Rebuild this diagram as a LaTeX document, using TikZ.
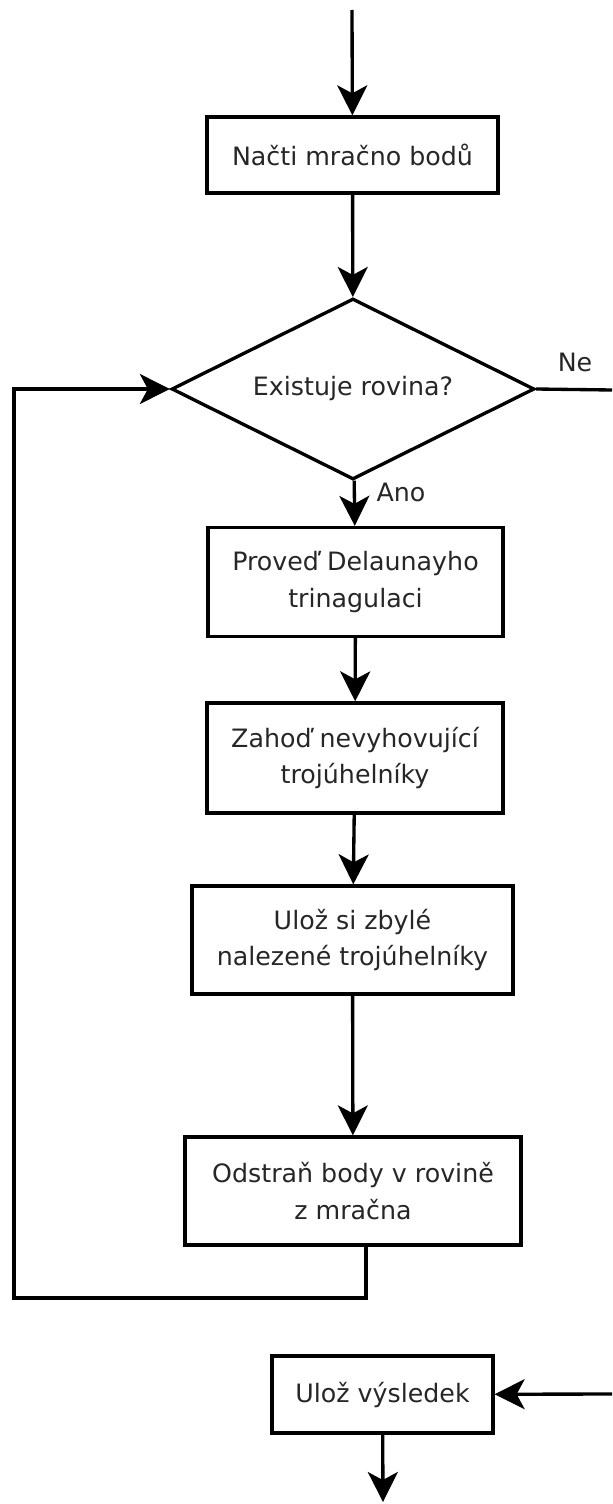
\documentclass[tikz,border=0pt]{standalone}
\usepackage{fontspec}
\setmainfont{DejaVu Sans}
\usepackage{tikz}
\usetikzlibrary{arrows.meta,shapes.geometric}

\begin{document}
\begin{tikzpicture}[x=0.02cm,y=-0.02cm,line width=1.9pt,
  >={Stealth[length=0.6cm,width=0.6cm,inset=0.16cm]},
  txt/.style={font=\fontsize{14.4}{21}\selectfont,text=black!85},
  box/.style={txt,draw,rectangle,align=center,inner sep=0pt},
  decision/.style={txt,draw,diamond,aspect=2,inner sep=0pt,
    minimum width=7.26cm,minimum height=3.62cm}]
  \useasboundingbox (0,0) rectangle (612,1504);
  % steps of the loop
  \coordinate (start) at (352,10);
  \node[box,minimum width=5.82cm,minimum height=1.52cm] (load) at (352.5,155) {Načti mračno bodů};
  \node[decision] (plane) at (353,389) {Existuje rovina?};
  \node[box,minimum width=5.9cm,minimum height=2.18cm] (delaunay) at (355.5,582) {Proveď Delaunayho\\trinagulaci};
  \node[box,minimum width=5.92cm,minimum height=2.2cm] (discard) at (355,758) {Zahoď nevyhovující\\trojúhelníky};
  \node[box,minimum width=6.42cm,minimum height=2.16cm] (keep) at (352.5,940) {Ulož si zbylé\\nalezené trojúhelníky};
  \node[box,minimum width=6.72cm,minimum height=2.16cm] (remove) at (353,1191) {Odstraň body v rovině\\z mračna};
  \node[box,minimum width=4.42cm,minimum height=1.54cm] (save) at (382.5,1394.5) {Ulož výsledek};
  \node[txt] (yes) at (401,492) {Ano};
  \node[txt] (no) at (575,362) {Ne};
  \coordinate (noexit) at (612,390);
  \coordinate (noenter) at (612,1394);
  \coordinate (finish) at (383,1502);
  \coordinate (loopR) at (366,1298);
  \coordinate (loopL) at (14,1298);

  \draw[->] (start) -- (load);
  \draw[->] (load) -- (plane);
  \draw[->] (plane) -- (delaunay);
  \draw[->] (delaunay) -- (discard);
  \draw[->] (discard) -- (keep);
  \draw[->] (keep) -- (remove);
  \draw[->] (remove.south -| loopR) -- (loopR) -- (loopL) |- (plane.west);
  \draw (plane.east) -- (noexit);
  \draw[->] (noenter) -- (save);
  \draw[->] (save) -- (finish);
\end{tikzpicture}
\end{document}
